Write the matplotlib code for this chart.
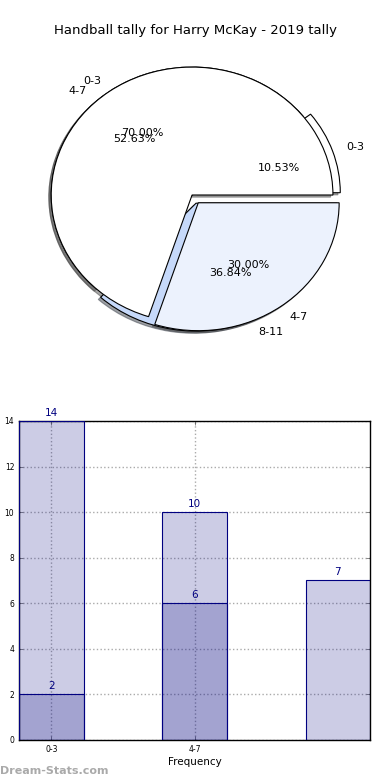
import numpy as np
import matplotlib

matplotlib.use("Agg")
import matplotlib.pyplot as plt

TITLE = "Handball tally for Harry McKay - 2019 tally"

# pie 1 (drawn first, underneath)
pie1_labels = ["0-3", "4-7", "8-11"]
pie1_values = [2, 10, 7]
# pie 2 (drawn on top)
pie2_labels = ["0-3", "4-7"]
pie2_values = [14, 6]

# bars
bar_cats = ["0-3", "4-7", "8-11"]
bar_light = [14, 10, 7]
bar_dark = [2, 6]

NAVY = "#000080"


def build():
    fig = plt.figure(figsize=(3.9, 7.8), dpi=100, facecolor="white")

    # ---------------- pie ----------------
    ax = fig.add_axes([0.041, 0.545, 0.903, 0.41])
    shadow = {"ox": -0.012, "oy": -0.012}
    ax.pie(pie1_values, labels=pie1_labels, autopct="%.2f%%",
           explode=(0.055, 0, 0.07), shadow=shadow,
           colors=["white", "white", "#c6d9fa"],
           wedgeprops=dict(edgecolor="black", lw=0.8),
           textprops=dict(fontsize=8))
    ax.pie(pie2_values, labels=pie2_labels, autopct="%.2f%%",
           explode=(0, 0.075), shadow=shadow,
           colors=["white", "#ecf2fd"],
           wedgeprops=dict(edgecolor="black", lw=0.8),
           textprops=dict(fontsize=8))
    ax.set_aspect("auto")
    ax.set_xlim(-1.25, 1.25)
    ax.set_ylim(-1.25, 1.25)
    fig.text(0.5, 0.961, TITLE, ha="center", va="center", fontsize=9.5)

    # ---------------- bars ----------------
    bx = fig.add_axes([0.049, 0.0513, 0.9, 0.409])
    x = np.arange(len(bar_cats))
    width = 0.45
    bx.bar(x, bar_light, width, color=NAVY, alpha=0.2, edgecolor="none",
           zorder=2)
    bx.bar(x, bar_light, width, facecolor="none", edgecolor=NAVY, lw=0.8,
           zorder=3)
    xd = x[:len(bar_dark)]
    bx.bar(xd, bar_dark, width, color=NAVY, alpha=0.2, edgecolor="none",
           zorder=2)
    bx.bar(xd, bar_dark, width, facecolor="none", edgecolor=NAVY, lw=0.8,
           zorder=3)
    for xi, v in zip(x, bar_light):
        bx.text(xi, v + 0.15, str(v), ha="center", va="bottom", color=NAVY,
                fontsize=7.5)
    for xi, v in zip(xd, bar_dark):
        bx.text(xi, v + 0.15, str(v), ha="center", va="bottom", color=NAVY,
                fontsize=7.5)

    bx.set_xlim(-width / 2, len(bar_cats) - 1 + width / 2)
    bx.set_ylim(0, 14)
    bx.set_yticks(range(0, 15, 2))
    bx.set_xticks(x[:2])
    bx.set_xticklabels(bar_cats[:2])
    bx.tick_params(labelsize=5.5, direction="in", length=3, width=0.5,
                   right=True, top=True, colors="#555555")
    bx.tick_params(labelcolor="black")
    bx.grid(True, linestyle=":", color="#aaaaaa", lw=1.0, zorder=1)
    bx.set_axisbelow(True)
    for s in bx.spines.values():
        s.set_linewidth(1.0)
    bx.set_xlabel("Frequency", fontsize=7.5, labelpad=2)
    bx.set_ylabel("Games Played", fontsize=7.5)
    bx.yaxis.set_label_coords(-0.06, 0.5)

    fig.text(0.0, 0.012, "Dream-Stats.com", ha="left", va="center",
             fontsize=8, color="#aaaaaa", weight="bold")

    fig.savefig("out.png", dpi=100, facecolor="white")
    plt.close(fig)


if __name__ == "__main__":
    build()
